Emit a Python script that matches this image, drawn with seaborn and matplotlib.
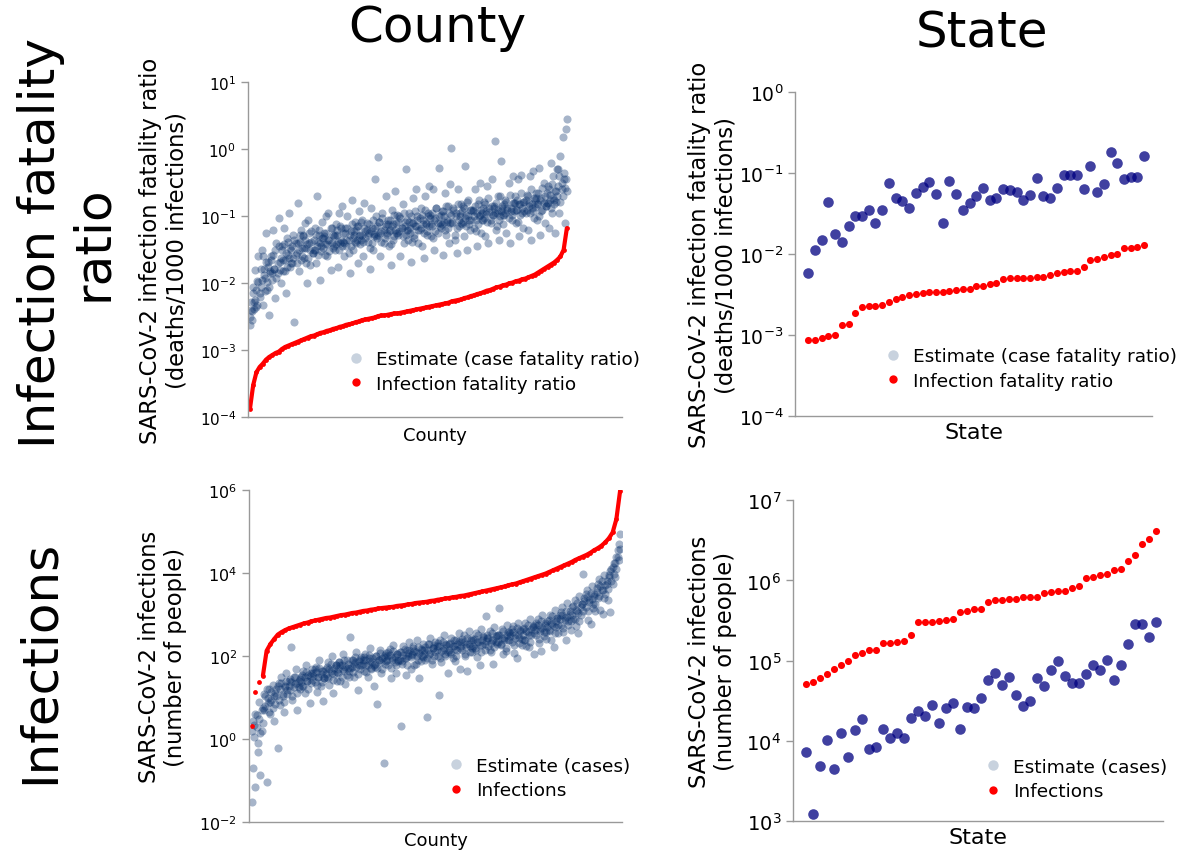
import numpy as np
import pandas as pd
import seaborn as sns
import matplotlib.pyplot as plt
from matplotlib.lines import Line2D

# ---------------- data ----------------
# State panels: 51 states, sorted by the red series
state_cfr = [0.00594, 0.0113, 0.0150, 0.0439, 0.0177, 0.0143, 0.0222, 0.030, 0.030, 0.0353,
             0.0244, 0.0353, 0.0753, 0.0491, 0.046, 0.0377, 0.0577, 0.0672, 0.0774, 0.0561,
             0.0246, 0.0796, 0.0556, 0.0353, 0.0426, 0.053, 0.0665, 0.0469, 0.0496, 0.0634,
             0.0629, 0.0594, 0.0473, 0.0546, 0.0876, 0.052, 0.0501, 0.0665, 0.0953, 0.0953,
             0.0953, 0.0647, 0.122, 0.0582, 0.0745, 0.182, 0.133, 0.0859, 0.0901, 0.0901, 0.165]
state_ifr = [0.000875, 0.00088, 0.000927, 0.00098, 0.0010, 0.00133, 0.00137, 0.0019, 0.00222, 0.0023,
             0.0023, 0.00239, 0.0026, 0.00281, 0.00297, 0.00318, 0.00321, 0.00336, 0.0034, 0.00343,
             0.00343, 0.0035, 0.0036, 0.00373, 0.00377, 0.00403, 0.00411, 0.00427, 0.00443, 0.00501,
             0.00505, 0.00505, 0.00505, 0.0051, 0.00525, 0.00525, 0.00561, 0.00582, 0.00605, 0.00622,
             0.00622, 0.00691, 0.00844, 0.00885, 0.00927, 0.0099, 0.0101, 0.0119, 0.0119, 0.0124, 0.0130]
state_cases = [7300, 1230, 4840, 10200, 4440, 12400, 6380, 13600, 19000, 7940,
               8490, 14100, 10900, 12700, 10900, 19200, 23900, 20500, 28300, 16900,
               26000, 29400, 14100, 26500, 25500, 34000, 57500, 71000, 49800, 62100,
               37400, 27300, 31200, 60300, 47900, 75900, 99100, 64400, 52200, 52200,
               68900, 87500, 75900, 103000, 57900, 89100, 163000, 289000, 286000, 199000, 306000]
state_infections = [51800, 54200, 61400, 68900, 79400, 87400, 100000, 119000, 125000, 137000,
                    137000, 164000, 166000, 172000, 176000, 211000, 300000, 300000, 303000, 312000,
                    318000, 327000, 408000, 419000, 440000, 444000, 532000, 564000, 564000, 580000,
                    591000, 614000, 620000, 627000, 689000, 723000, 744000, 744000, 811000, 842000,
                    1.06e6, 1.11e6, 1.15e6, 1.19e6, 1.33e6, 1.38e6, 1.72e6, 2.07e6, 2.86e6, 3.27e6, 4.07e6]

# County panels: values as 100*log10, ordered by county rank
# spread of the case-fatality cloud (incl. outliers)
county_cfr_log = [
    -262, -240, -255, -205, -228, -180, -236, -196, -160, -215,
    -205, -150, -232, -178, -192, -125, -210, -168, -248, -185,
    -160, -195, -120, -178, -222, -140, -185, -102, -168, -200,
    -145, -182, -118, -165, -215, -132, -158, -95, -175, -150,
    -170, -128, -258, -140, -155, -80, -182, -138, -120, -160,
    -130, -162, -110, -148, -200, -105, -140, -172, -122, -155,
    -150, -118, -170, -70, -138, -128, -195, -145, -108, -132,
    -125, -158, -100, -142, -95, -135, -180, -118, -148, -130,
    -150, -112, -128, -175, -95, -140, -118, -85, -138, -160,
    -118, -145, -100, -135, -185, -122, -75, -150, -128, -108,
    -140, -115, -170, -92, -128, -135, -105, -160, -80, -122,
    -110, -138, -125, -178, -88, -118, -150, -130, -45, -100,
    -132, -11, -108, -160, -122, -95, -140, -115, -70, -128,
    -105, -145, -120, -172, -90, -112, -130, -62, -125, -98,
    -128, -100, -160, -118, -82, -140, -108, -30, -120, -135,
    -95, -125, -168, -110, -72, -132, -115, -60, -100, -140,
    -120, -88, -145, -105, -162, -70, -112, -128, -95, -55,
    -98, -130, -115, -60, -150, -102, -88, -125, -28, -110,
    -118, -92, -158, -100, -65, -128, -108, -85, -140, -52,
    2, -110, -88, -135, -95, -155, -60, -115, -100, -82,
    -112, -85, -130, -25, -98, -150, -75, -105, -120, -90,
    -90, -118, -60, -105, -145, -82, -100, -50, -125, -95,
    -105, -78, -130, -92, -55, -140, -88, -110, -45, -98,
    -85, 12, -120, -95, -70, -135, -100, -18, -88, -112,
    -98, -75, -125, -88, -50, -140, -92, -105, -40, -80,
    -70, -110, -90, -45, -130, -82, -38, -95, -118, -78,
    -95, -68, -120, -80, -40, -135, -88, -32, -102, -75,
    -65, -105, -82, -28, -128, -72, -90, -50, -110, -85,
    -80, -55, -118, -68, -20, -95, -40, -75, -125, -62,
    -70, -30, -95, -10, -60, 18, -45, -110, 30, 45]
# dense core of the case-fatality cloud
county_cfr_core_log = [
    -250, -228, -242, -215, -238, -225, -210, -232, -198, -220,
    -178, -195, -160, -188, -212, -168, -198, -175, -205, -182,
    -165, -185, -158, -178, -150, -192, -170, -145, -180, -162,
    -150, -165, -142, -182, -155, -175, -138, -162, -148, -170,
    -145, -162, -135, -158, -170, -140, -150, -128, -165, -148,
    -128, -148, -135, -170, -142, -162, -125, -150, -138, -155,
    -135, -150, -128, -145, -158, -120, -140, -152, -132, -148,
    -130, -142, -125, -160, -135, -152, -118, -140, -128, -145,
    -128, -142, -120, -138, -150, -115, -135, -145, -125, -140,
    -125, -135, -118, -155, -128, -145, -112, -132, -122, -138,
    -120, -135, -115, -130, -142, -108, -128, -138, -118, -132,
    -120, -128, -112, -148, -122, -140, -105, -126, -118, -130,
    -115, -128, -108, -125, -138, -102, -120, -132, -112, -125,
    -112, -122, -105, -142, -115, -135, -98, -120, -110, -125,
    -108, -122, -102, -118, -130, -95, -115, -128, -105, -120,
    -108, -118, -100, -138, -110, -128, -92, -115, -105, -120,
    -102, -118, -98, -112, -125, -90, -110, -122, -100, -115,
    -102, -112, -95, -132, -105, -122, -88, -110, -100, -115,
    -98, -112, -92, -108, -120, -85, -105, -118, -95, -110,
    -98, -108, -90, -128, -100, -118, -82, -105, -95, -110,
    -92, -108, -88, -102, -115, -78, -100, -112, -90, -105,
    -92, -100, -85, -122, -95, -112, -75, -98, -90, -105,
    -88, -102, -82, -96, -108, -72, -94, -105, -85, -98,
    -88, -95, -80, -115, -90, -105, -70, -92, -85, -98,
    -82, -95, -78, -90, -102, -68, -88, -98, -80, -92,
    -80, -90, -75, -108, -82, -98, -65, -88, -78, -92,
    -75, -90, -70, -84, -95, -60, -82, -92, -72, -86,
    -72, -82, -65, -100, -75, -92, -58, -80, -70, -85,
    -65, -80, -60, -75, -88, -52, -72, -82, -62, -78,
    -30, -55, -40, -78, -50, -70, -35, -58, -45, -62]
county_ifr_log = [
    -387, -352, -333, -325, -320, -314, -310, -307, -304, -302,
    -298, -295, -293, -291, -289, -287, -285, -283, -281, -279,
    -278, -276, -274, -273, -271, -270, -268, -267, -265, -264,
    -262, -261, -260, -258, -257, -255, -254, -253, -252, -251,
    -249, -248, -248, -247, -246, -245, -245, -244, -243, -242,
    -241, -240, -239, -238, -237, -236, -235, -234, -233, -232,
    -231, -230, -229, -227, -226, -225, -224, -222, -221, -219,
    -218, -216, -215, -213, -211, -210, -208, -206, -205, -203,
    -202, -200, -199, -197, -196, -194, -193, -191, -189, -187,
    -184, -181, -178, -175, -172, -169, -165, -160, -150, -118]
# spread of the case cloud (incl. outliers)
county_cases_log = [
    -152, -70, 35, -115, 58, -30, 90, -85, 20, 75,
    70, 105, -104, 88, 120, 60, 95, 130, 45, 112,
    120, -20, 135, 82, 150, 105, 65, 128, 160, 110,
    140, 118, 221, 95, 150, 132, 170, 70, 125, 145,
    150, 128, 165, 112, 180, 140, 155, 88, 135, 170,
    160, 138, 175, 115, 150, 190, 128, 165, 92, 148,
    170, 150, 185, 130, 165, 200, 112, 158, 178, 140,
    160, 185, 140, 178, 205, 165, 132, 190, 172, 150,
    247, 175, 192, 150, 185, 210, 118, 180, 168, 198,
    190, 165, 205, 178, 150, 195, 220, 172, 185, 128,
    175, 200, 85, 190, 215, 160, 195, -57, 182, 208,
    200, 180, 218, 148, 195, 228, 185, 160, 205, 190,
    210, 33, 188, 225, 195, 155, 215, 200, 235, 170,
    205, 225, 180, 210, 240, 190, 148, 218, 200, 230,
    215, 190, 53, 230, 205, 245, 182, 220, 200, 235,
    225, 200, 107, 240, 185, 215, 250, 205, 230, 160,
    230, 210, 245, 195, 225, 188, 240, 215, 255, 170,
    235, 215, 250, 200, 230, 165, 260, 225, 245, 210,
    240, 220, 255, 198, 235, 178, 265, 228, 248, 215,
    297, 245, 225, 260, 210, 240, 182, 270, 235, 252,
    250, 315, 230, 265, 205, 245, 212, 275, 240, 258,
    255, 235, 272, 208, 250, 195, 280, 245, 262, 228,
    265, 240, 280, 225, 258, 222, 290, 250, 270, 205,
    275, 250, 290, 232, 265, 212, 300, 258, 280, 242,
    285, 262, 300, 238, 278, 222, 312, 270, 292, 255,
    300, 275, 318, 258, 292, 240, 328, 285, 308, 262,
    318, 290, 335, 272, 310, 255, 345, 300, 325, 398,
    340, 318, 360, 288, 335, 278, 370, 325, 350, 310,
    365, 340, 385, 312, 360, 302, 395, 350, 375, 335,
    395, 307, 410, 375, 425, 390, 440, 455, 470, 494]
# dense core of the case cloud
county_cases_core_log = [
    20, 45, 5, 60, 30, -10, 50, 15, 70, 40,
    110, 80, 120, 100, 65, 90, 115, 75, 105, 85,
    105, 128, 95, 120, 135, 110, 90, 125, 140, 118,
    128, 145, 138, 105, 125, 150, 135, 112, 140, 122,
    138, 155, 128, 150, 162, 140, 120, 152, 160, 142,
    152, 168, 162, 130, 150, 172, 158, 138, 165, 148,
    158, 175, 148, 168, 182, 160, 142, 172, 178, 162,
    170, 186, 180, 150, 168, 190, 175, 155, 182, 165,
    172, 190, 162, 182, 198, 175, 158, 188, 194, 178,
    182, 198, 192, 162, 180, 202, 188, 168, 195, 178,
    182, 200, 172, 192, 208, 185, 168, 198, 204, 188,
    192, 210, 202, 172, 190, 212, 198, 178, 205, 188,
    192, 210, 182, 202, 218, 195, 178, 208, 215, 198,
    202, 220, 212, 182, 200, 222, 208, 188, 215, 198,
    205, 222, 195, 215, 230, 208, 190, 220, 226, 210,
    215, 232, 225, 195, 212, 235, 220, 200, 228, 210,
    215, 232, 205, 225, 240, 218, 200, 230, 236, 220,
    225, 242, 235, 205, 222, 245, 230, 210, 238, 220,
    225, 242, 215, 235, 250, 228, 210, 240, 246, 230,
    236, 252, 245, 215, 232, 255, 240, 222, 248, 230,
    235, 252, 226, 245, 260, 238, 220, 250, 258, 240,
    248, 265, 258, 228, 245, 268, 252, 232, 260, 242,
    250, 268, 240, 260, 275, 252, 235, 265, 272, 255,
    264, 280, 274, 242, 260, 284, 268, 248, 276, 258,
    270, 288, 260, 280, 296, 272, 255, 285, 292, 276,
    290, 306, 300, 268, 286, 310, 295, 274, 302, 284,
    300, 320, 290, 312, 328, 305, 285, 318, 325, 308,
    333, 350, 342, 310, 330, 352, 338, 315, 345, 325,
    355, 375, 345, 368, 382, 360, 340, 372, 380, 362,
    390, 405, 380, 415, 398, 425, 410, 440, 432, 458]
county_inf_log = [
    31, 114, 137, 153, 213, 229, 241, 252, 258, 263,
    267, 270, 273, 276, 279, 281, 284, 286, 288, 290,
    292, 293, 295, 297, 299, 300, 302, 304, 305, 307,
    309, 310, 312, 313, 315, 316, 317, 318, 319, 321,
    322, 323, 325, 326, 328, 329, 330, 331, 333, 334,
    336, 337, 339, 340, 342, 343, 345, 346, 348, 350,
    352, 354, 356, 358, 360, 362, 364, 366, 368, 371,
    373, 375, 378, 381, 384, 387, 390, 393, 396, 399,
    403, 407, 411, 415, 419, 423, 427, 432, 436, 440,
    444, 449, 455, 460, 466, 474, 484, 498, 530, 598]

BLUE = "#08306b"
STATE_BLUE = "navy"
PALE = "#c8d2de"

# ---------------- figure ----------------
sns.set_style("white")
plt.rcParams['font.family'] = ['DejaVu Sans']
plt.rcParams.update({"text.color": "black", "axes.labelcolor": "black",
                     "xtick.color": "black", "ytick.color": "black"})

fig = plt.figure(figsize=(11.82, 8.54), dpi=100)
ax_tl = fig.add_axes([0.2098, 0.5102, 0.3164, 0.3923])
ax_tr = fig.add_axes([0.6726, 0.5114, 0.3020, 0.3794])
ax_bl = fig.add_axes([0.2107, 0.0359, 0.3156, 0.3891])
ax_br = fig.add_axes([0.6709, 0.0371, 0.3130, 0.3762])


def county_frame(vals):
    n = len(vals)
    return pd.DataFrame({"rank": np.arange(n) / (n - 1),
                         "value": 10 ** (np.array(vals) / 100.0)})


def state_frame(vals):
    return pd.DataFrame({"rank": np.arange(len(vals)), "value": vals})


def style_axis(ax, ylim, ticksize, ticks=None):
    ax.set_yscale("log")
    ax.set_ylim(*ylim)
    if ticks is not None:
        ax.set_yticks(ticks)
    ax.yaxis.set_minor_locator(plt.NullLocator())
    ax.set_xticks([])
    for s in ["top", "right"]:
        ax.spines[s].set_visible(False)
    for s in ["left", "bottom"]:
        ax.spines[s].set_color("#999999")
        ax.spines[s].set_linewidth(1.0)
    ax.tick_params(axis="y", which="major", direction="out", length=5, width=1,
                   color="#999999", labelcolor="black", labelsize=ticksize, left=True)


def add_legend(ax, labels, xy, fs=13.3):
    handles = [Line2D([], [], ls="", marker="o", markersize=7.5, color=PALE, markeredgewidth=0),
               Line2D([], [], ls="", marker="o", markersize=6, color="red", markeredgewidth=0)]
    ax.legend(handles, labels, loc="center left", bbox_to_anchor=xy,
              bbox_transform=fig.transFigure, frameon=False, fontsize=fs,
              borderpad=0, borderaxespad=0, handlelength=1.0, handletextpad=0.6,
              labelspacing=0.35)


def county_cloud(ax, spread, core):
    for vals in (spread, core):
        sns.scatterplot(data=county_frame(vals), x="rank", y="value", ax=ax, color=BLUE,
                        alpha=0.36, s=34, linewidth=0, legend=False)


def county_curve(ax, vals, start=0):
    df = county_frame(vals)
    sns.lineplot(data=df.iloc[start:], x="rank", y="value", ax=ax, color="red", lw=3.0,
                 estimator=None, sort=False, legend=False)
    sns.scatterplot(data=df, x="rank", y="value", ax=ax, color="red", s=12,
                    linewidth=0, legend=False)


# --- top left: county fatality ratio
county_cloud(ax_tl, county_cfr_log, county_cfr_core_log)
county_curve(ax_tl, county_ifr_log)
style_axis(ax_tl, (1e-4, 10), 11)
ax_tl.set_xlim(-0.0063, 1.174)
ax_tl.set_xlabel("County", fontsize=13, labelpad=6)
ax_tl.set_ylabel("SARS-CoV-2 infection fatality ratio\n(deaths/1000 infections)", fontsize=16.3)
ax_tl.yaxis.set_label_coords(-0.158, 0.5)
add_legend(ax_tl, ["Estimate (case fatality ratio)", "Infection fatality ratio"], (0.2933, 0.5638))

# --- top right: state fatality ratio
sns.scatterplot(data=state_frame(state_cfr), x="rank", y="value", ax=ax_tr, color=STATE_BLUE,
                alpha=0.75, s=58, linewidth=0, legend=False)
sns.scatterplot(data=state_frame(state_ifr), x="rank", y="value", ax=ax_tr, color="red",
                s=26, linewidth=0, legend=False)
style_axis(ax_tr, (1e-4, 1), 13.5)
ax_tr.set_xlim(-1.98, 51.16)
ax_tr.set_xlabel("State", fontsize=16, labelpad=4)
ax_tr.set_ylabel("SARS-CoV-2 infection fatality ratio\n(deaths/1000 infections)", fontsize=16.3)
ax_tr.yaxis.set_label_coords(-0.162, 0.5)
add_legend(ax_tr, ["Estimate (case fatality ratio)", "Infection fatality ratio"], (0.7476, 0.5673))

# --- bottom left: county infections
county_cloud(ax_bl, county_cases_log, county_cases_core_log)
county_curve(ax_bl, county_inf_log, start=3)
style_axis(ax_bl, (1e-2, 1e6), 11.5, ticks=[1e-2, 1e0, 1e2, 1e4, 1e6])
ax_bl.set_xlim(-0.0073, 1.0054)
ax_bl.set_xlabel("County", fontsize=13, labelpad=6)
ax_bl.set_ylabel("SARS-CoV-2 infections\n(number of people)", fontsize=16.3)
ax_bl.yaxis.set_label_coords(-0.166, 0.5)
add_legend(ax_bl, ["Estimate (cases)", "Infections"], (0.3779, 0.0878))

# --- bottom right: state infections
sns.scatterplot(data=state_frame(state_cases), x="rank", y="value", ax=ax_br, color=STATE_BLUE,
                alpha=0.75, s=58, linewidth=0, legend=False)
sns.scatterplot(data=state_frame(state_infections), x="rank", y="value", ax=ax_br, color="red",
                s=26, linewidth=0, legend=False)
style_axis(ax_br, (1e3, 1e7), 14)
ax_br.set_xlim(-1.90, 51.03)
ax_br.set_xlabel("State", fontsize=16, labelpad=4)
ax_br.set_ylabel("SARS-CoV-2 infections\n(number of people)", fontsize=16.3)
ax_br.yaxis.set_label_coords(-0.151, 0.5)
add_legend(ax_br, ["Estimate (cases)", "Infections"], (0.8322, 0.0867))

# --- column and row headers
fig.text(437 / 1182, 1 - 28 / 854, "County", ha="center", va="center", fontsize=36)
fig.text(982 / 1182, 1 - 33 / 854, "State", ha="center", va="center", fontsize=36)
fig.text(67 / 1182, 1 - 243 / 854, "Infection fatality\nratio", rotation=90, ha="center",
         va="center", fontsize=36, linespacing=1.1, multialignment="center")
fig.text(40 / 1182, 1 - 662 / 854, "Infections", rotation=90, ha="center", va="center",
         fontsize=36)

fig.savefig("out.png", dpi=100)
